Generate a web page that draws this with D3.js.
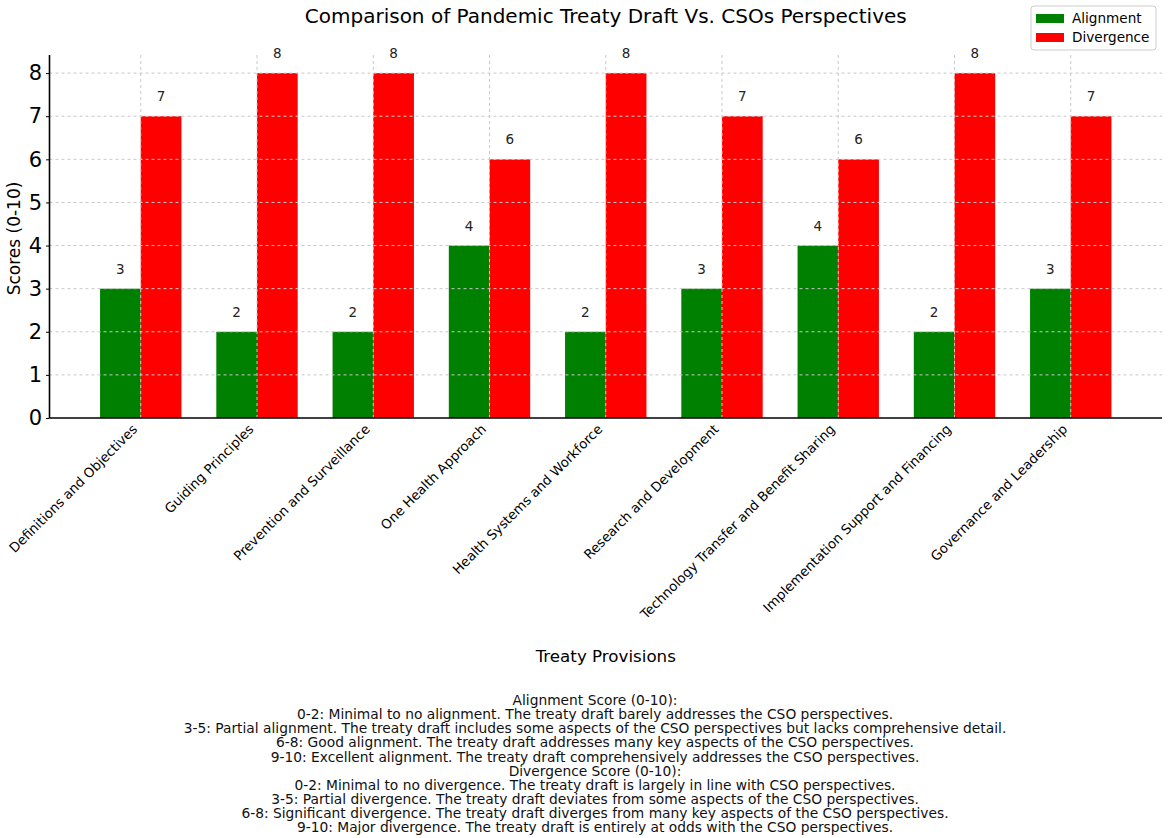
<!DOCTYPE html>
<html><head><meta charset="utf-8">
<script src="https://cdn.jsdelivr.net/npm/d3@7"></script>
<style>body{margin:0;background:#fff}svg{display:block;font-family:"DejaVu Sans",sans-serif}</style>
</head><body>
<svg id="c" width="1170" height="838"></svg>
<script>
const categories = ["Definitions and Objectives","Guiding Principles","Prevention and Surveillance","One Health Approach","Health Systems and Workforce","Research and Development","Technology Transfer and Benefit Sharing","Implementation Support and Financing","Governance and Leadership"];
const alignment = [3,2,2,4,2,3,4,2,3];
const divergence = [7,8,8,6,8,7,6,8,7];
const yTicks = [0,1,2,3,4,5,6,7,8];
const seriesNames = ["Alignment","Divergence"];
const seriesColors = ["#008000","#ff0000"];
const title = "Comparison of Pandemic Treaty Draft Vs. CSOs Perspectives";
const xTitle = "Treaty Provisions";
const yTitle = "Scores (0-10)";
const notes = [
"Alignment Score (0-10):",
"0-2: Minimal to no alignment. The treaty draft barely addresses the CSO perspectives.",
"3-5: Partial alignment. The treaty draft includes some aspects of the CSO perspectives but lacks comprehensive detail.",
"6-8: Good alignment. The treaty draft addresses many key aspects of the CSO perspectives.",
"9-10: Excellent alignment. The treaty draft comprehensively addresses the CSO perspectives.",
"Divergence Score (0-10):",
"0-2: Minimal to no divergence. The treaty draft is largely in line with CSO perspectives.",
"3-5: Partial divergence. The treaty draft deviates from some aspects of the CSO perspectives.",
"6-8: Significant divergence. The treaty draft diverges from many key aspects of the CSO perspectives.",
"9-10: Major divergence. The treaty draft is entirely at odds with the CSO perspectives."
];

const svg = d3.select("#c");
const L = 49.5, R = 1162, T = 55, B = 418;
const w = 0.35;
const x = d3.scaleLinear().domain([-0.785, categories.length - 1 + 0.785]).range([L, R]);
const y = d3.scaleLinear().domain([0, 8.42]).range([B, T]);

const series = [alignment, divergence];
series.forEach((vals, s) => {
  const g = svg.append("g");
  g.selectAll("rect").data(vals).join("rect")
    .attr("x", (d,i) => x(i + (s === 0 ? -w : 0)))
    .attr("width", x(w) - x(0))
    .attr("y", d => y(d))
    .attr("height", d => y(0) - y(d))
    .attr("fill", seriesColors[s]);
  g.selectAll("text").data(vals).join("text")
    .attr("x", (d,i) => x(i + (s === 0 ? -w/2 : w/2)))
    .attr("y", d => y(d) - 15)
    .attr("text-anchor", "middle")
    .attr("font-size", 13.5).attr("fill", "#222")
    .text(d => d);
});

// grid (on top of bars)
const grid = svg.append("g").attr("stroke", "#c8c8c8").attr("stroke-width", 1).attr("stroke-dasharray", "3,3");
grid.selectAll("line.h").data(yTicks.slice(1)).join("line").attr("class","h")
  .attr("x1", L).attr("x2", R).attr("y1", d => y(d)).attr("y2", d => y(d));
grid.selectAll("line.v").data(categories).join("line").attr("class","v")
  .attr("x1", (d,i) => x(i)).attr("x2", (d,i) => x(i)).attr("y1", T).attr("y2", B);

// y axis
const yAxis = d3.axisLeft(y).tickValues(yTicks).tickSize(3.5).tickPadding(4).tickFormat(d3.format("d"));
const ya = svg.append("g").attr("transform", `translate(${L},0)`).call(yAxis);
ya.select(".domain").attr("stroke", "#000").attr("stroke-width", 1.6).attr("d", `M0,${T}V${B}`);
ya.selectAll("text").attr("font-size", 21).attr("font-family", "DejaVu Sans").attr("fill", "#000");

// x axis
const xAxis = d3.axisBottom(x).tickValues(d3.range(categories.length)).tickSize(0).tickFormat(i => categories[i]);
const xa = svg.append("g").attr("transform", `translate(0,${B})`).call(xAxis);
xa.select(".domain").attr("stroke", "#000").attr("stroke-width", 1.6).attr("d", `M${L},0H${R}`);
xa.selectAll("text").attr("font-size", 13.3).attr("font-family", "DejaVu Sans").attr("fill", "#000")
  .attr("text-anchor", "end").attr("dy", null).attr("y", 0)
  .attr("transform", "translate(-3,12) rotate(-45)");

// titles
svg.append("text").attr("x", (L+R)/2).attr("y", 23).attr("text-anchor","middle").attr("font-size", 20).text(title);
svg.append("text").attr("x", (L+R)/2).attr("y", 662).attr("text-anchor","middle").attr("font-size", 16.7).text(xTitle);
svg.append("text").attr("transform", `translate(20,${(T+B)/2 + 2}) rotate(-90)`).attr("text-anchor","middle").attr("font-size", 17).text(yTitle);

// legend
const lg = svg.append("g").attr("transform", "translate(1031,6)");
lg.append("rect").attr("width", 125).attr("height", 44).attr("rx", 3).attr("fill", "#fff").attr("stroke", "#ccc");
seriesNames.forEach((n, i) => {
  lg.append("rect").attr("x", 5).attr("y", 8 + i*19).attr("width", 28).attr("height", 9).attr("fill", seriesColors[i]);
  lg.append("text").attr("x", 41).attr("y", 17 + i*19).attr("font-size", 13.6).text(n);
});

// notes
svg.append("g").selectAll("text").data(notes).join("text")
  .attr("x", 595).attr("y", (d,i) => 705 + i*14.15)
  .attr("text-anchor","middle").attr("font-size", 13.8).attr("fill", "#111")
  .text(d => d);
</script>
</body></html>
